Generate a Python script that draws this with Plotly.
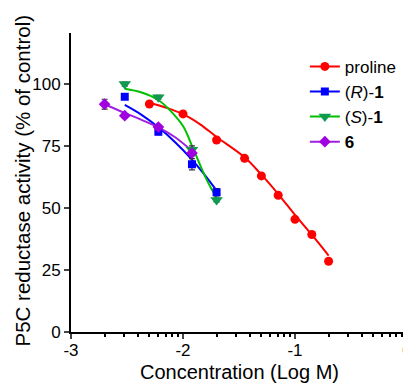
import plotly.graph_objects as go
import numpy as np

# ---- measured data (log M concentration, % of control) ----
conc_proline = [-2.30, -2.00, -1.70, -1.45, -1.30, -1.15, -1.00, -0.85, -0.70]
act_proline = [91.9, 87.9, 77.4, 70.0, 62.9, 55.1, 45.4, 39.3, 28.5]
err_proline = [0.8, 0.8, 0.8, 0.8, 0.8, 0.8, 0.8, 0.8, 0.8]

conc_R = [-2.52, -2.22, -1.92, -1.70]
act_R = [94.8, 80.7, 67.6, 56.3]
err_R = [1.0, 1.2, 2.3, 1.5]

conc_S = [-2.52, -2.22, -1.92, -1.70]
act_S = [99.9, 94.6, 73.4, 53.2]
err_S = [0.8, 0.8, 1.6, 0.8]

conc_6 = [-2.70, -2.52, -2.22, -1.92]
act_6 = [91.8, 87.2, 82.6, 72.1]
err_6 = [2.0, 0.8, 0.8, 1.0]

# ---- fitted curves ----
fit_proline_x = [-2.30, -2.15, -2.00, -1.85, -1.70, -1.45, -1.30, -1.15, -1.00, -0.85, -0.70]
fit_proline_y = [92.4, 90.4, 87.8, 83.8, 78.6, 70.4, 63.4, 55.6, 47.2, 39.2, 30.8]
fit_R_x = [-2.52, -2.37, -2.22, -2.07, -1.92, -1.81, -1.70]
fit_R_y = [91.5, 87.5, 82.5, 76.5, 69.5, 63.5, 57.0]
fit_S_x = [-2.52, -2.37, -2.22, -2.12, -2.00, -1.91, -1.79, -1.70]
fit_S_y = [98.0, 96.5, 93.5, 89.5, 83.0, 74.0, 61.5, 54.0]
fit_6_x = [-2.70, -2.52, -2.37, -2.22, -2.07, -1.92]
fit_6_y = [91.8, 88.3, 85.5, 82.5, 78.5, 73.0]

x_ticks = [-3, -2, -1, 0]
x_ticklabels = ["-3", "-2", "-1", "0"]
y_ticks = [0, 25, 50, 75, 100]

names = ["proline", "(<i>R</i>)-<b>1</b>", "(<i>S</i>)-<b>1</b>", "<b>6</b>"]
line_colors = ["#FF0000", "#0000FF", "#00C000", "#A020E0"]
marker_colors = ["#FF0000", "#0000FF", "#109A50", "#A000E0"]
symbols = ["circle", "square", "triangle-down", "diamond"]
msizes = [9, 8, 11, 9]

series = [
    (conc_proline, act_proline, err_proline, fit_proline_x, fit_proline_y),
    (conc_R, act_R, err_R, fit_R_x, fit_R_y),
    (conc_S, act_S, err_S, fit_S_x, fit_S_y),
    (conc_6, act_6, err_6, fit_6_x, fit_6_y),
]

fig = go.Figure()
for i, (cx, cy, ce, fx, fy) in enumerate(series):
    fig.add_trace(go.Scatter(x=fx, y=fy, mode="lines", line=dict(color=line_colors[i], width=2, shape="spline"),
                             showlegend=False, hoverinfo="skip"))
for i, (cx, cy, ce, fx, fy) in enumerate(series):
    fig.add_trace(go.Scatter(x=cx, y=cy, mode="markers",
                             marker=dict(symbol=symbols[i], size=msizes[i], color=marker_colors[i]),
                             error_y=dict(type="data", array=ce, color="#333333", thickness=1.2, width=3),
                             showlegend=False))
for i in range(4):
    fig.add_trace(go.Scatter(x=[None], y=[None], mode="lines+markers", name=names[i],
                             line=dict(color=line_colors[i], width=2),
                             marker=dict(symbol=symbols[i], size=msizes[i], color=marker_colors[i])))

minor_vals = []
for d in [-3, -2, -1]:
    for k in range(2, 10):
        minor_vals.append(d + np.log10(k))

fig.update_layout(
    width=411, height=383,
    margin=dict(l=63, r=12, t=25, b=59),
    paper_bgcolor="white", plot_bgcolor="white",
    font=dict(family="Liberation Sans, Arial", color="black", size=17),
    legend=dict(x=0.696, y=0.947, xanchor="left", yanchor="top", font=dict(size=17),
                bgcolor="rgba(0,0,0,0)"),
    xaxis=dict(range=[-3, 0], tickvals=x_ticks, ticktext=x_ticklabels, ticks="outside", ticklen=5,
               tickwidth=1.5, showline=True, linecolor="black", linewidth=1.8, showgrid=False, zeroline=False,
               tickfont=dict(size=17), automargin=False, ticklabelstandoff=-3,
               minor=dict(tickmode="array", tickvals=minor_vals, ticks="outside", ticklen=3, tickwidth=1.5,
                          tickcolor="black", showgrid=False)),
    yaxis=dict(range=[0, 120.5], tickvals=y_ticks, ticks="outside", ticklen=5, tickwidth=1.5,
               showline=True, linecolor="black", linewidth=1.8, showgrid=False, zeroline=False,
               tickfont=dict(size=17), automargin=False),
    annotations=[
        dict(text="Concentration (Log M)", x=0.5, y=0, xref="paper", yref="paper",
             xanchor="center", yanchor="middle", yshift=-40, showarrow=False, font=dict(size=20)),
        dict(text="P5C reductase activity (% of control)", x=0, y=0.5, xref="paper", yref="paper",
             xanchor="center", yanchor="middle", xshift=-49, yshift=2, textangle=-90, showarrow=False,
             font=dict(size=20.5)),
    ],
)

fig.write_html("out.html")
